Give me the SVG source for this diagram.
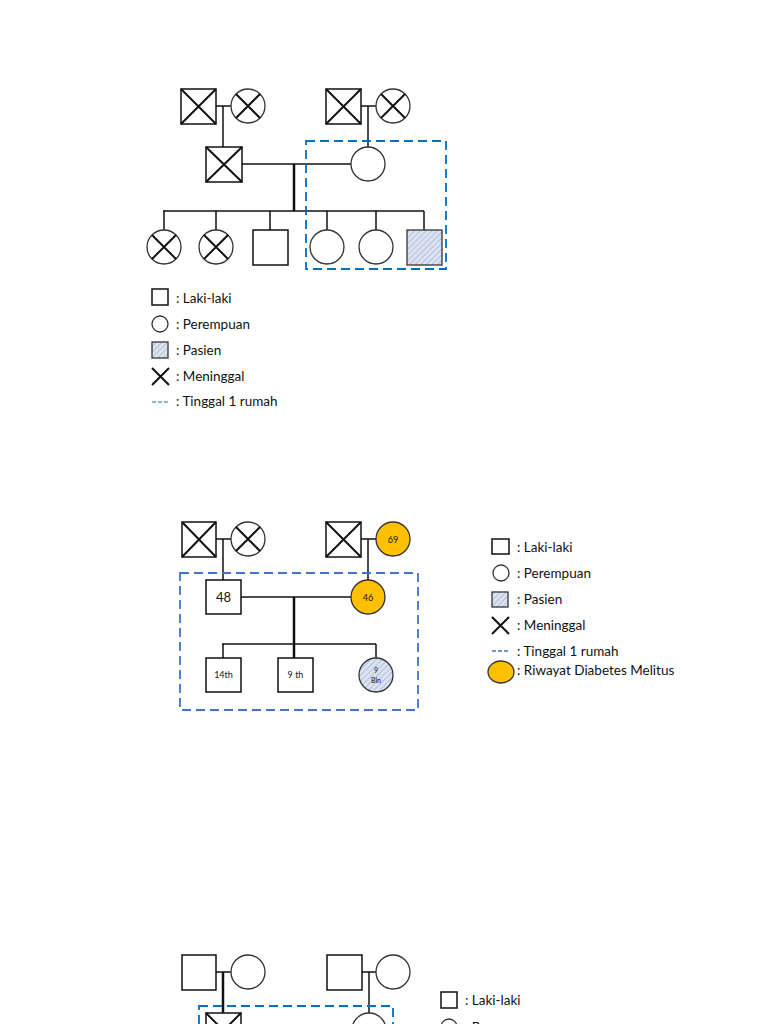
<svg xmlns="http://www.w3.org/2000/svg" width="768" height="1024" viewBox="0 0 768 1024">
<defs>
<pattern id="hatch" width="4" height="4" patternUnits="userSpaceOnUse" patternTransform="rotate(45)">
<rect width="4" height="4" fill="#dce4f2"/>
<line x1="0" y1="0" x2="0" y2="4" stroke="#8a9bbf" stroke-width="1"/>
</pattern>
<style>
.sq{fill:#fff;stroke:#111;stroke-width:1.5}
.ci{fill:#fff;stroke:#333;stroke-width:1.3}
.x{stroke:#111;stroke-width:2}
.ln{stroke:#111;stroke-width:1.5;fill:none}
.thk{stroke:#111;stroke-width:2.5;fill:none}
.dm{fill:#ffc000;stroke:#333;stroke-width:1.3}
.pat{fill:url(#hatch);stroke:#333;stroke-width:1.3}
.box1{fill:none;stroke:#0070c0;stroke-width:1.8;stroke-dasharray:9,5}
.box2{fill:none;stroke:#4472c4;stroke-width:1.8;stroke-dasharray:9,5}
.t{font-family:Lato,"Open Sans",sans-serif;font-size:13.5px;fill:#111}
.s{font-family:Lato,"Open Sans",sans-serif;fill:#111;text-anchor:middle}
</style>
</defs>
<rect width="768" height="1024" fill="#fff"/>

<!-- Diagram 1 -->
<g id="d1-connectors">
<line class="ln" x1="216" y1="106" x2="231" y2="106"/>
<line class="ln" x1="223" y1="106" x2="223" y2="147"/>
<line class="ln" x1="361" y1="106" x2="376" y2="106"/>
<line class="ln" x1="368" y1="106" x2="368" y2="147"/>
<line class="ln" x1="242" y1="164" x2="351" y2="164"/>
<line class="thk" x1="294" y1="164" x2="294" y2="211"/>
<line class="ln" x1="163" y1="211" x2="424" y2="211"/>
<line class="ln" x1="164" y1="211" x2="164" y2="230"/>
<line class="ln" x1="216" y1="211" x2="216" y2="230"/>
<line class="ln" x1="270" y1="211" x2="270" y2="230"/>
<line class="ln" x1="327" y1="211" x2="327" y2="230"/>
<line class="ln" x1="376" y1="211" x2="376" y2="230"/>
<line class="ln" x1="424" y1="211" x2="424" y2="230"/>
</g>
<g id="d1-gf"><rect class="sq" x="181" y="89" width="35" height="35"/><path class="x" d="M181 89L216 124M216 89L181 124"/></g>
<g id="d1-gm"><circle class="ci" cx="248" cy="106" r="17"/><path class="x" d="M236 94L260 118M260 94L236 118"/></g>
<g id="d1-gf2"><rect class="sq" x="326" y="89" width="35" height="35"/><path class="x" d="M326 89L361 124M361 89L326 124"/></g>
<g id="d1-gm2"><circle class="ci" cx="393" cy="106" r="17"/><path class="x" d="M381 94L405 118M405 94L381 118"/></g>
<g id="d1-father"><rect class="sq" x="206" y="147" width="36" height="35"/><path class="x" d="M206 147L242 182M242 147L206 182"/></g>
<g id="d1-mother"><circle class="ci" cx="368" cy="164" r="17"/></g>
<g id="d1-c1"><circle class="ci" cx="164" cy="247" r="17"/><path class="x" d="M152 235L176 259M176 235L152 259"/></g>
<g id="d1-c2"><circle class="ci" cx="216" cy="247" r="17"/><path class="x" d="M204 235L228 259M228 235L204 259"/></g>
<g id="d1-c3"><rect class="sq" x="253" y="230" width="35" height="35"/></g>
<g id="d1-c4"><circle class="ci" cx="327" cy="247" r="17"/></g>
<g id="d1-c5"><circle class="ci" cx="376" cy="247" r="17"/></g>
<g id="d1-c6"><rect class="pat" x="407" y="230" width="35" height="35"/></g>
<rect id="d1-house" class="box1" x="306" y="141" width="140" height="128"/>

<g id="legend1">
<rect class="sq" x="152" y="289" width="16" height="16" stroke-width="1.2"/>
<text class="t" x="176" y="303">: Laki-laki</text>
<circle class="ci" cx="160" cy="324" r="8"/>
<text class="t" x="176" y="329">: Perempuan</text>
<rect class="pat" x="152" y="342" width="16" height="16"/>
<text class="t" x="176" y="355">: Pasien</text>
<path class="x" d="M152 368L169 385M169 368L152 385"/>
<text class="t" x="176" y="381">: Meninggal</text>
<line x1="152" y1="402" x2="170" y2="402" stroke="#0070c0" stroke-width="1.2" stroke-dasharray="4,2"/>
<text class="t" x="176" y="406">: Tinggal 1 rumah</text>
</g>

<!-- Diagram 2 -->
<g id="d2-connectors">
<line class="ln" x1="216" y1="539" x2="231" y2="539"/>
<line class="ln" x1="223" y1="539" x2="223" y2="580"/>
<line class="ln" x1="361" y1="539" x2="376" y2="539"/>
<line class="ln" x1="368" y1="539" x2="368" y2="580"/>
<line class="ln" x1="241" y1="597" x2="351" y2="597"/>
<line class="thk" x1="294" y1="597" x2="294" y2="658"/>
<line class="ln" x1="222" y1="644" x2="376" y2="644"/>
<line class="ln" x1="223" y1="644" x2="223" y2="658"/>
<line class="ln" x1="376" y1="644" x2="376" y2="658"/>
</g>
<g id="d2-gf"><rect class="sq" x="182" y="522" width="34" height="35"/><path class="x" d="M182 522L216 557M216 522L182 557"/></g>
<g id="d2-gm"><circle class="ci" cx="248" cy="539" r="17"/><path class="x" d="M236 527L260 551M260 527L236 551"/></g>
<g id="d2-gf2"><rect class="sq" x="326" y="522" width="35" height="35"/><path class="x" d="M326 522L361 557M361 522L326 557"/></g>
<g id="d2-gm2"><circle class="dm" cx="393" cy="539" r="17"/><text class="s" x="393" y="543" font-size="9">69</text></g>
<g id="d2-father"><rect class="sq" x="206" y="580" width="35" height="34"/><text class="s" x="223.5" y="602" font-size="13">48</text></g>
<g id="d2-mother"><circle class="dm" cx="368" cy="597" r="17"/><text class="s" x="368" y="601" font-size="9">46</text></g>
<g id="d2-c1"><rect class="sq" x="206" y="658" width="35" height="34"/><text class="s" x="223.5" y="678" font-size="9">14th</text></g>
<g id="d2-c2"><rect class="sq" x="278" y="658" width="35" height="34"/><text class="s" x="295.5" y="678" font-size="9">9 th</text></g>
<g id="d2-c3"><circle class="pat" cx="376" cy="675" r="17"/><text class="s" x="376" y="673" font-size="7">9</text><text class="s" x="376" y="683" font-size="7">Bln</text></g>
<rect id="d2-house" class="box2" x="180" y="573" width="238" height="137"/>

<g id="legend2">
<rect class="sq" x="492" y="539" width="17" height="15" stroke-width="1.2"/>
<text class="t" x="517" y="552">: Laki-laki</text>
<circle class="ci" cx="501" cy="573" r="8"/>
<text class="t" x="517" y="578">: Perempuan</text>
<rect class="pat" x="492" y="592" width="16" height="15"/>
<text class="t" x="517" y="604">: Pasien</text>
<path class="x" d="M492 617L509 634M509 617L492 634"/>
<text class="t" x="517" y="630">: Meninggal</text>
<line x1="492" y1="651" x2="510" y2="651" stroke="#4472c4" stroke-width="1.5" stroke-dasharray="4,2"/>
<text class="t" x="517" y="656">: Tinggal 1 rumah</text>
<ellipse class="dm" cx="501" cy="672" rx="13" ry="11"/>
<text class="t" x="517" y="675">: Riwayat Diabetes Melitus</text>
</g>

<!-- Diagram 3 (partial) -->
<g id="d3-connectors">
<line class="ln" x1="216" y1="972" x2="231" y2="972"/>
<line class="thk" x1="223" y1="972" x2="223" y2="1013"/>
<line class="ln" x1="362" y1="972" x2="376" y2="972"/>
<line class="ln" x1="369" y1="972" x2="369" y2="1013"/>
</g>
<g id="d3-gf"><rect class="sq" x="182" y="955" width="34" height="35"/></g>
<g id="d3-gm"><circle class="ci" cx="248" cy="972" r="17"/></g>
<g id="d3-gf2"><rect class="sq" x="327" y="955" width="35" height="35"/></g>
<g id="d3-gm2"><circle class="ci" cx="393" cy="972" r="17"/></g>
<g id="d3-father"><rect class="sq" x="206" y="1013" width="35" height="35"/><path class="x" d="M206 1013L241 1048M241 1013L206 1048"/></g>
<g id="d3-mother"><circle class="ci" cx="369" cy="1030" r="17"/></g>
<rect id="d3-house" class="box1" x="199" y="1006" width="194" height="60"/>
<g id="legend3">
<rect class="sq" x="441" y="992" width="16" height="16" stroke-width="1.2"/>
<text class="t" x="465" y="1005">: Laki-laki</text>
<circle class="ci" cx="449" cy="1027" r="8"/>
<text class="t" x="465" y="1032">: Perempuan</text>
</g>
</svg>
